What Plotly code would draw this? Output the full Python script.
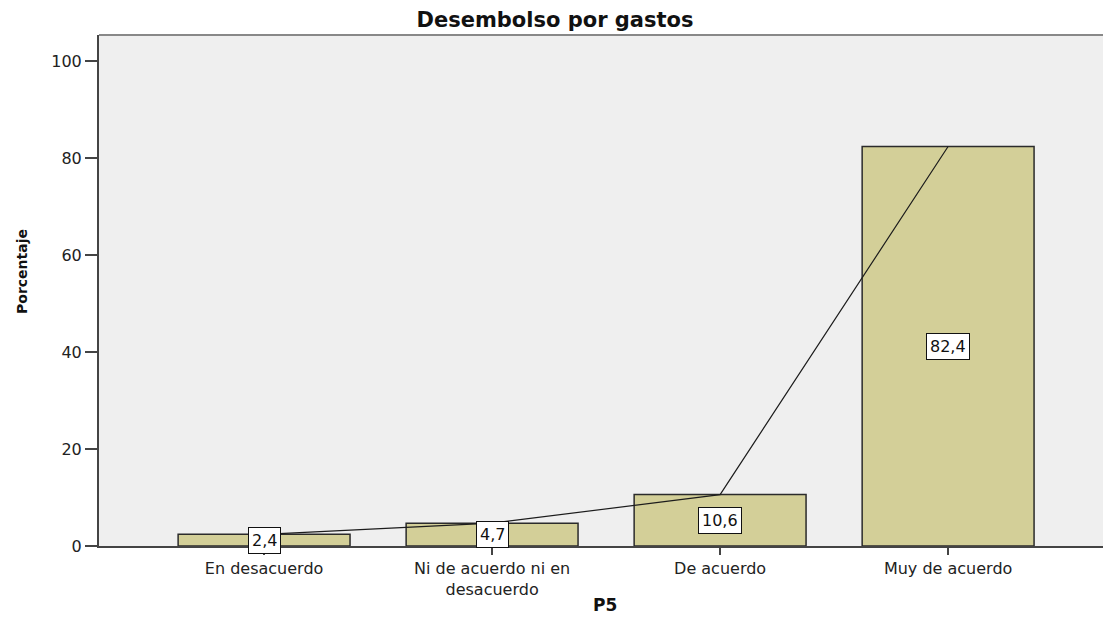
import plotly.graph_objects as go

categories = ["En desacuerdo", "Ni de acuerdo ni en desacuerdo", "De acuerdo", "Muy de acuerdo"]
tick_labels = ["En desacuerdo", "Ni de acuerdo ni en<br>desacuerdo", "De acuerdo", "Muy de acuerdo"]
values = [2.4, 4.7, 10.6, 82.4]
y_ticks = [0, 20, 40, 60, 80, 100]

title_text = "Desembolso por gastos"
x_title = "P5"
y_title = "Porcentaje"

FONT = "DejaVu Sans, Liberation Sans, Arial"
OFF = 8  # page body margin
W, H = 1111 - OFF, 617 - OFF
L, R, T, B = 99 - OFF, 1, 35 - OFF, 71
plot_h = H - T - B
plot_w = W - L - R

fig = go.Figure()
fig.add_trace(go.Bar(
    x=categories, y=values, width=0.754,
    marker=dict(color="#D3CF98", line=dict(color="#2b2b2b", width=1.5)),
    hoverinfo="skip", showlegend=False,
))
fig.add_trace(go.Scatter(
    x=categories, y=values, mode="lines",
    line=dict(color="#1c1c1c", width=1.2),
    hoverinfo="skip", showlegend=False,
))

for c, v in zip(categories, values):
    fig.add_annotation(
        x=c, y=v / 2, xref="x", yref="y",
        text=f"{v:.1f}".replace(".", ","),
        showarrow=False, bgcolor="white", bordercolor="#111111", borderwidth=1, borderpad=3,
        font=dict(family=FONT, size=16, color="#111111"),
    )

fig.add_annotation(
    xref="paper", yref="paper", x=(22 - 99) / plot_w, y=(546 - 272) / plot_h,
    text=f"<b>{y_title}</b>", textangle=-90, showarrow=False,
    xanchor="center", yanchor="middle",
    font=dict(family=FONT, size=14, color="#111111"),
)
fig.add_annotation(
    xref="paper", yref="paper", x=0.5, y=-(605 - 546) / plot_h,
    text=f"<b>{x_title}</b>", showarrow=False, xanchor="center", yanchor="middle",
    font=dict(family=FONT, size=17, color="#111111"),
)
# top frame line
fig.add_shape(type="line", xref="paper", yref="paper", x0=0, x1=1, y0=1, y1=1,
              line=dict(color="#888888", width=2))
fig.add_shape(type="line", xref="paper", yref="paper", x0=1, x1=1, y0=0, y1=1,
              line=dict(color="#d0d0d0", width=1))

fig.update_layout(
    width=W, height=H,
    margin=dict(l=L, r=R, t=T, b=B),
    paper_bgcolor="white", plot_bgcolor="#EFEFEF",
    title=dict(text=f"<b>{title_text}</b>", x=(555 - OFF) / W, xref="container", xanchor="center",
               y=1 - (20 - OFF) / H, yanchor="middle", yref="container",
               font=dict(family=FONT, size=21, color="#111111")),
    font=dict(family=FONT, size=16, color="#222222"),
    bargap=0.25,
)
fig.update_xaxes(
    type="category", range=[-0.724, 3.71],
    tickvals=categories, ticktext=tick_labels,
    ticks="outside", ticklen=7, tickwidth=1.5, tickcolor="#444444",
    showline=True, linecolor="#444444", linewidth=1.5,
    showgrid=False, zeroline=False,
    tickfont=dict(family=FONT, size=16, color="#222222"),
)
fig.update_yaxes(
    range=[0, 105.4], tickvals=y_ticks,
    ticks="outside", ticklen=12, tickwidth=1.5, tickcolor="#444444",
    showline=True, linecolor="#444444", linewidth=2,
    showgrid=False, zeroline=False,
    tickfont=dict(family=FONT, size=16, color="#222222"),
)

fig.write_html("out.html")
